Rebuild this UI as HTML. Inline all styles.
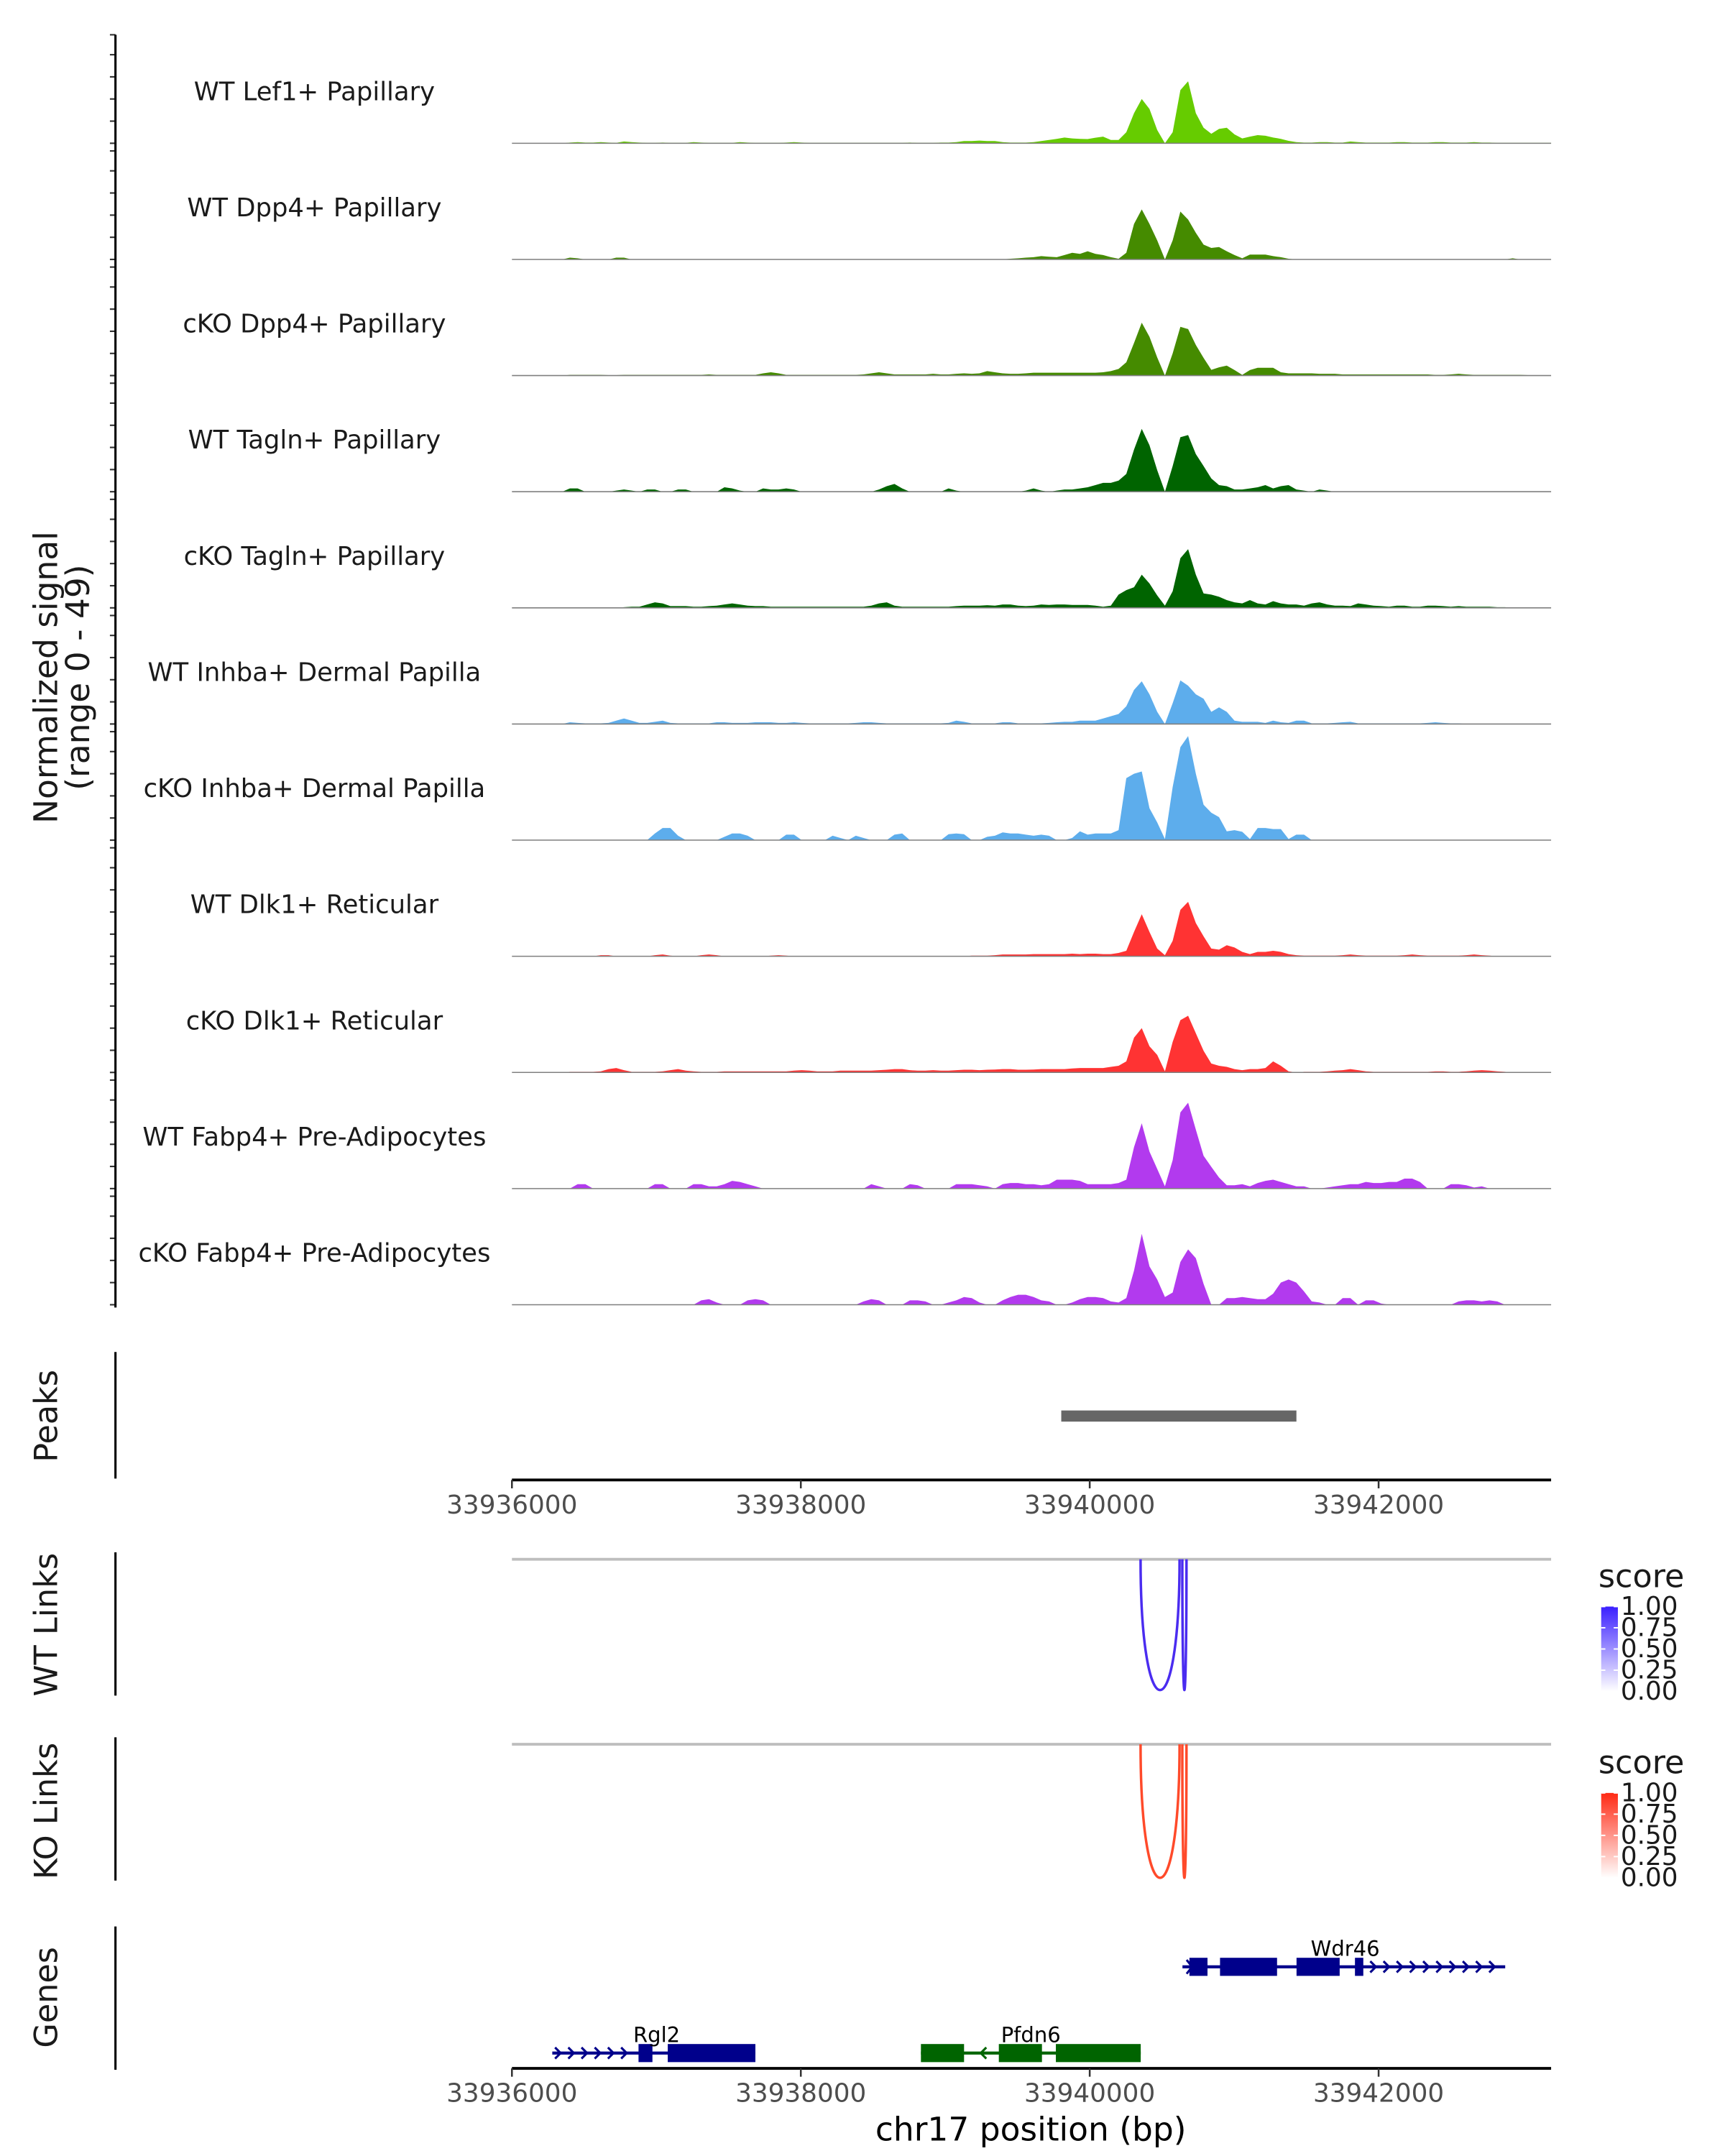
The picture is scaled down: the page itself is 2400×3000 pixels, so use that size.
<!DOCTYPE html>
<html><head><meta charset="utf-8">
<style>
html,body{margin:0;padding:0;background:#fff;}
svg{display:block;font-family:"DejaVu Sans","Liberation Sans",sans-serif;}
</style></head>
<body>
<svg id="fig" width="2400" height="3000" viewBox="0 0 1240 1550" xmlns="http://www.w3.org/2000/svg">
<rect x="0" y="0" width="1240" height="1550" fill="#fff"/>
<g id="tracks"></g>
<g id="axes"></g>
</svg>
<script>
// ---------- data ----------
const regionStart = 33936000;
const regionEnd = 33943190;
const binSize = 53.5;
const xTicks = [33936000, 33938000, 33940000, 33942000];
const yMax = 49;
const trackNames = ["WT Lef1+ Papillary","WT Dpp4+ Papillary","cKO Dpp4+ Papillary","WT Tagln+ Papillary","cKO Tagln+ Papillary","WT Inhba+ Dermal Papilla","cKO Inhba+ Dermal Papilla","WT Dlk1+ Reticular","cKO Dlk1+ Reticular","WT Fabp4+ Pre-Adipocytes","cKO Fabp4+ Pre-Adipocytes"];
const trackColors = ["#66CC00","#458B00","#458B00","#006400","#006400","#5DADEC","#5DADEC","#FF3333","#FF3333","#B23AEE","#B23AEE"];
const sigLef1WT = [0,0,0,0,0,0,0,0.3,0.5,0.3, 0.3,0.5,0.3,0.2,0.8,0.5,0.3,0.2,0.2,0.3, 0.2,0.2,0.2,0.5,0.3,0.2,0.2,0.2,0.2,0.5, 0.3,0.2,0.2,0.2,0.2,0.3,0.5,0.3,0.2,0.2, 0.2,0.2,0.2,0.2,0.2,0.2,0.2,0.2,0.2,0.2, 0.2,0.3,0.2,0.2,0.2,0.3,0.3,0.5,1,1, 1.2,1,1,0.5,0.3,0.3,0.3,0.5,1,1.5, 2,2.6,2.2,2,1.9,2.5,3,1.5,1.5,5, 13.6,20,15.5,6,0,5,24,28,13.6,7, 4.3,6.5,7,4,2.2,3,3.7,3.4,2.6,2, 1.1,0.5,0.3,0.3,0.5,0.5,0.3,0.3,0.8,0.5, 0.3,0.3,0.3,0.3,0.5,0.5,0.3,0.3,0.3,0.5, 0.5,0.3,0.3,0.3,0.5,0.3,0.3,0.2,0.2,0.2, 0.2,0.2,0.2,0.2,0.2,0,0];
const sigDpp4WT = [0,0,0,0,0,0,0,0.8,0.5,0, 0,0,0,0.8,0.8,0,0,0,0,0, 0,0,0,0,0,0,0,0,0,0, 0,0,0,0,0,0,0,0,0,0, 0,0,0,0,0,0,0,0,0,0, 0,0,0,0,0,0,0,0,0,0, 0,0,0,0,0.3,0.5,0.8,1,1.5,1.2, 1,2,3,2.5,3.7,2.5,2,1,0.3,3, 16,22.6,16,8.6,0,8.6,21.6,18,12,6.7, 5.2,5.6,3.7,2,0.5,2.2,2.2,2.2,1.5,1, 0.3,0,0,0,0,0,0,0,0,0, 0,0,0,0,0,0,0,0,0,0, 0,0,0,0,0,0,0,0,0,0.5, 0,0,0,0,0,0,0];
const sigDpp4KO = [0,0,0,0,0,0,0,0.3,0.3,0.3, 0.3,0.3,0.2,0.2,0.3,0.3,0.3,0.3,0.3,0.3, 0.3,0.3,0.3,0.3,0.3,0.5,0.3,0.3,0.3,0.3, 0.3,0.3,1,1.5,1,0.3,0.3,0.3,0.3,0.3, 0.3,0.3,0.3,0.3,0.3,0.5,1,1.5,1,0.5, 0.5,0.5,0.5,0.5,0.8,0.5,0.5,0.8,1,0.8, 1,2,1.5,1,0.8,0.8,1,1.3,1.3,1.3, 1.3,1.3,1.3,1.3,1.3,1.3,1.5,2,3,6, 14.7,23.9,17.5,8.2,0,10,22,21,13.8,8, 2.6,3.7,4.5,2.5,0.3,2.5,3.5,3.5,3.5,1.5, 1,1,1,1,0.8,0.8,0.8,0.5,0.5,0.5, 0.5,0.5,0.5,0.5,0.5,0.5,0.5,0.5,0.5,0.3, 0.3,0.5,0.8,0.5,0.3,0.3,0.3,0.3,0.3,0.3, 0.3,0.2,0.2,0,0,0,0];
const sigTaglnWT = [0,0,0,0,0,0,0,1.5,1.5,0, 0,0,0,0.5,1,0.5,0,1,1,0, 0,1,1,0,0,0,0,2,1.5,0.5, 0,0,1.5,1,1,1.5,1,0,0,0, 0,0,0,0,0,0,0,1,2.5,3.5, 1.5,0,0,0,0,0,1.5,0.5,0,0, 0,0,0,0,0,0,0.5,1.5,0.5,0, 0.5,1,1,1.5,2,3,4,4,5,8, 19,28.4,21,9.7,0,11.6,24.6,25.6,17,11.6, 6,3,2.5,1,1,1.5,2,3,1.5,2.5, 3,1,0.5,0,1,0.5,0,0,0,0, 0,0,0,0,0,0,0,0,0,0, 0,0,0,0,0,0,0,0,0,0, 0,0,0,0,0,0,0];
const sigTaglnKO = [0,0,0,0,0,0,0,0,0,0, 0,0,0,0,0.3,0.5,0.5,1.5,2.5,2, 0.8,0.8,0.8,0.5,0.5,0.8,1,1.5,2,1.5, 1,0.8,0.8,0.5,0.5,0.5,0.5,0.5,0.5,0.5, 0.5,0.5,0.5,0.5,0.5,0.5,1,2,2.5,1, 0.5,0.5,0.5,0.5,0.5,0.5,0.5,0.8,1,1, 1,1.2,1,1.5,1.5,1,0.8,1,1.5,1.3, 1.5,1.5,1.3,1.3,1.3,1,0.5,1,6,8, 9.3,15,11,5.6,1,7.5,22.4,26.5,15,6.5, 6,5,3.5,2.5,2,3.5,2,1.5,3,2, 1.5,1.5,1,2,2.5,1.5,1,1,0.8,2, 1.5,1,0.8,0.5,1,1,0.5,0.5,1,1, 0.8,0.5,0.8,0.5,0.5,0.5,0.5,0.3,0.3,0, 0,0,0,0,0,0,0];
const sigInhbaWT = [0,0,0,0,0,0,0,0.8,0.5,0.3, 0.3,0.3,0.5,1.5,2.5,1.5,0.5,0.5,1,1.5, 0.5,0.3,0.3,0.3,0.3,0.3,0.8,0.8,0.5,0.5, 0.5,0.8,0.8,0.8,0.5,0.5,0.8,0.5,0.3,0.3, 0.3,0.3,0.3,0.3,0.5,0.8,0.8,0.5,0.3,0.3, 0.3,0.3,0.3,0.3,0.3,0.3,0.5,1.5,1,0.3, 0.3,0.3,0.3,0.8,0.8,0.3,0.3,0.3,0.3,0.5, 0.8,1,1,1.5,1.5,1.5,2.5,3.5,4.5,8, 15.4,19.3,13.4,5.5,0,9.4,19.7,17.3,13.4,11.4, 5.5,7.5,5.5,1.5,1,1,1,0.5,1.5,0.8, 0.5,1.5,1.5,0.3,0.3,0.3,0.5,0.8,1,0.3, 0.3,0.3,0.3,0.3,0.3,0.3,0.3,0.3,0.5,0.8, 0.5,0.3,0.3,0,0,0,0,0,0,0, 0,0,0,0,0,0,0];
const sigInhbaKO = [0,0,0,0,0,0,0,0,0,0, 0,0,0,0,0,0,0,0,3,5.5, 5.5,2,0,0,0,0,0,1.5,3,3, 2,0,0,0,0,2.5,2.5,0,0,0, 0,2,1,0,2,1,0,0,0,2.5, 3,0,0,0,0,0,2.7,3,2.7,0, 0,1.5,2,3.5,3,3,2.5,2,2.5,2, 0,0,1,4,2.5,3,3,3,4.5,28, 30,31,14.4,8,0.5,24,42,47,30,16, 12.4,10.4,4,4.5,3.8,0.5,5.5,5.5,5,5, 0.5,2.5,2.5,0,0,0,0,0,0,0, 0,0,0,0,0,0,0,0,0,0, 0,0,0,0,0,0,0,0,0,0, 0,0,0,0,0,0,0];
const sigDlk1WT = [0,0,0,0,0,0,0,0,0,0, 0,0.5,0.5,0,0,0,0,0,0.5,0.8, 0.3,0,0,0,0.5,0.8,0.5,0,0,0, 0,0,0,0.3,0.5,0.3,0,0,0,0, 0,0,0,0,0,0,0,0,0,0, 0,0,0,0,0,0,0,0,0,0.3, 0.3,0.3,0.5,0.8,0.8,0.8,0.8,1,1,1, 1,1,1.2,1,1.2,1.2,1,1,1.5,2.5, 11,19,11,3.5,0.5,7,21,24.6,15,9, 3.5,3,5,4,2,1,2,2,2.5,2, 1,0.5,0.3,0.3,0.3,0.3,0.3,0.5,0.8,0.5, 0.3,0.3,0.3,0.3,0.3,0.5,0.8,0.5,0.3,0.3, 0.3,0.3,0.3,0.5,0.8,0.5,0.3,0,0,0, 0,0,0,0,0,0,0];
const sigDlk1KO = [0,0,0,0,0,0,0,0.3,0.3,0.3, 0.3,0.5,1.5,2,1,0.3,0.3,0.3,0.3,0.5, 1,1.5,0.8,0.5,0.3,0.3,0.3,0.5,0.5,0.5, 0.5,0.5,0.5,0.5,0.5,0.5,0.8,1,0.8,0.5, 0.5,0.5,0.8,0.8,0.8,0.8,0.8,1,1.2,1.5, 1.5,1,0.8,0.8,1,0.8,0.8,1,1.2,1.2, 1,1.2,1.3,1.5,1.5,1.2,1.2,1.3,1.5,1.5, 1.5,1.5,1.8,2,2,2,2,2.5,3,5, 15.7,20,11.8,7.9,0.5,13.8,23.6,25.6,17.7,9.8, 4,3,2.5,1.5,1,1.5,1.5,2,5,3, 0.5,0,0.3,0.3,0.3,0.5,0.8,1,1.5,1, 0.5,0.3,0.3,0.3,0.3,0.3,0.3,0.3,0.3,0.5, 0.5,0.3,0.3,0.5,0.8,1,0.8,0.5,0.3,0, 0,0,0,0,0,0,0];
const sigFabp4WT = [0,0,0,0,0,0,0,0,2,2, 0,0,0,0,0,0,0,0,2,2, 0,0,0,2,2,1,1,2,3.5,3, 2,1,0,0,0,0,0,0,0,0, 0,0,0,0,0,0,2,1,0,0, 0,2,1.5,0,0,0,0,2,2,2, 1.5,1,0,2,2.5,2.5,2,2,1.5,2, 4,4,4,3.5,2,2,2,2,2.5,4, 18.7,29.5,16.7,8.9,1,12.8,34.4,38.8,26.6,14.8, 9.8,5,1.5,1.5,2,1,2.5,3.5,4,3, 2,1,1,0,0,0.5,1,1.5,2,2, 3,2.5,2.5,3,3,4.5,4.5,3,0,0, 0,2,2,1.5,0.5,1,0,0,0,0, 0,0,0,0,0,0,0];
const sigFabp4KO = [0,0,0,0,0,0,0,0,0,0, 0,0,0,0,0,0,0,0,0,0, 0,0,0,0,2,2.5,1,0,0,0, 2,2.5,2,0,0,0,0,0,0,0, 0,0,0,0,0,1.5,2.5,2,0,0, 0,2,2,1.5,0,0,1,2,3.5,3, 1,0,0,2,3.5,4.5,4.5,3.5,2,1.5, 0,0,1,2.5,3.5,3.5,3,1.5,1,3, 15.4,32,17.3,11.4,3.5,5.5,19.3,25,21,9.4, 0,0,3,3,3.5,3,2.5,2.5,5,10, 11.4,10,6,1.5,1,0,0,3,3,0, 2,2,0.5,0,0,0,0,0,0,0, 0,0,1.5,2,2,1.5,2,1.5,0,0, 0,0,0,0,0,0,0];
const signals = [sigLef1WT,sigDpp4WT,sigDpp4KO,sigTaglnWT,sigTaglnKO,sigInhbaWT,sigInhbaKO,sigDlk1WT,sigDlk1KO,sigFabp4WT,sigFabp4KO];
const peakStart = 33939803, peakEnd = 33941431;
const linkStartsWT = [33940352, 33940641];
const linkEndsWT = [33940622, 33940670];
const linkStartsKO = [33940352, 33940641];
const linkEndsKO = [33940622, 33940670];
const legendLabels = ["1.00","0.75","0.50","0.25","0.00"];

// ---------- layout ----------
const NS = "http://www.w3.org/2000/svg";
const X0 = 368, X1 = 1115;
const pxPerBp = (991 - 368) / 6000;
function xs(g){ return X0 + (g - regionStart) * pxPerBp; }
const trackTop0 = 25, trackStep = 83.5, trackH = 78;
function el(tag, attrs, parent, text){
  const e = document.createElementNS(NS, tag);
  for (const k in attrs) e.setAttribute(k, attrs[k]);
  if (text !== undefined) e.textContent = text;
  parent.appendChild(e);
  return e;
}
const T = document.getElementById('tracks');
const A = document.getElementById('axes');

signals.forEach((vals, i) => {
  const base = trackTop0 + trackH + trackStep * i;
  const ys = v => base - v / yMax * trackH;
  let d = `M${X0},${base}`;
  let last = 0;
  vals.forEach((v, b) => {
    const x = xs(regionStart + (b + 0.5) * binSize);
    if (x > X1) return;
    last = v;
    d += ` L${x.toFixed(2)},${ys(v).toFixed(2)}`;
  });
  d += ` L${X1},${ys(last).toFixed(2)} L${X1},${base} Z`;
  const p = el('path', {d: d, fill: trackColors[i]}, T);
  
  
  const bl = el('line', {x1:X0, x2:X1, y1:base, y2:base, stroke:'#7f7f7f', 'stroke-width':0.8}, T);
  
  
  const lb = el('text', {x:226, y:base-31, 'font-size':18.3, fill:'#1a1a1a', 'text-anchor':'middle'}, T, trackNames[i]);
  
  
  for (let k = 0; k <= 5; k++) {
    const ty = base - k * 10 / yMax * trackH;
    if (ty < base - trackH - 0.5) continue;
    const tk = el('line', {x1:79, x2:83, y1:ty, y2:ty, stroke:'#333', 'stroke-width':1.1}, A);
    
    
  }
  const tt = el('line', {x1:79, x2:83, y1:base-trackH, y2:base-trackH, stroke:'#333', 'stroke-width':1.1}, A);
  
  
});
const yax = el('line', {x1:83, x2:83, y1:25, y2:940, stroke:'#000', 'stroke-width':1.6}, A);


const yt = el('text', {transform:'translate(41,487) rotate(-90)', 'font-size':23.5, 'text-anchor':'middle', fill:'#1a1a1a'}, A);


el('tspan', {x:0, dy:0}, yt, 'Normalized signal');
el('tspan', {x:0, dy:23}, yt, '(range 0 - 49)');

function panelTitle(txt, cy, y1, y2, name){
  const t = el('text', {transform:`translate(41,${cy}) rotate(-90)`, 'font-size':23, 'text-anchor':'middle', fill:'#1a1a1a'}, A, txt);
  
  
  const l = el('line', {x1:83, x2:83, y1:y1, y2:y2, stroke:'#000', 'stroke-width':1.6}, A);
  
  
}
panelTitle('Peaks', 1018, 972, 1063, 'peaks-title');
const pk = el('line', {x1:xs(peakStart), x2:xs(peakEnd), y1:1018, y2:1018, stroke:'#666', 'stroke-width':8}, A);



function xAxis(y, name){
  const l = el('line', {x1:X0, x2:X1, y1:y, y2:y, stroke:'#000', 'stroke-width':2}, A);
  
  
  xTicks.forEach(g => {
    const tk = el('line', {x1:xs(g), x2:xs(g), y1:y, y2:y+6, stroke:'#333', 'stroke-width':1.3}, A);
    
    
    const tl = el('text', {x:xs(g), y:y+24, 'font-size':18.5, fill:'#4d4d4d', 'text-anchor':'middle'}, A, String(g));
    
    
  });
}
xAxis(1064, 'peaks-x-axis');

function links(top, bottom, starts, ends, color, gradId, c1, legendTop, titleTxt, cy, name){
  panelTitle(titleTxt, cy, top-5, top+98, name + '-title');
  const gl = el('line', {x1:X0, x2:X1, y1:top, y2:top, stroke:'#bebebe', 'stroke-width':2}, A);
  
  
  const c = top + (bottom - top) / 0.75;
  starts.forEach((s, i) => {
    const xa = xs(s), xb = xs(ends[i]);
    const p = el('path', {d:`M${xa},${top} C${xa},${c} ${xb},${c} ${xb},${top}`, fill:'none', stroke:color, 'stroke-width':1.8}, A);
    
    
  });
  const defs = el('defs', {}, A);
  const lg = el('linearGradient', {id:gradId, x1:0, y1:0, x2:0, y2:1}, defs);
  el('stop', {offset:0, 'stop-color':c1}, lg);
  el('stop', {offset:1, 'stop-color':'#ffffff'}, lg);
  const st = el('text', {x:1149, y:legendTop-14, 'font-size':23, fill:'#1a1a1a'}, A, 'score');
  
  
  const bar = el('rect', {x:1151, y:legendTop, width:12, height:61, fill:`url(#${gradId})`}, A);
  
  
  legendLabels.forEach((t, i) => {
    const ly = legendTop + i * 15.25;
    const lt = el('text', {x:1165, y:ly+6, 'font-size':18.5, fill:'#1a1a1a'}, A, t);
    
    
    el('line', {x1:1151, x2:1154, y1:ly, y2:ly, stroke:'#fff', 'stroke-width':1}, A);
    el('line', {x1:1160, x2:1163, y1:ly, y2:ly, stroke:'#fff', 'stroke-width':1}, A);
  });
}
links(1121, 1215, linkStartsWT, linkEndsWT, '#4A2CF0', 'gradWT', '#3a1fff', 1155, 'WT Links', 1168, 'wt-links');
links(1254, 1350, linkStartsKO, linkEndsKO, '#FF4A2A', 'gradKO', '#ff2a14', 1289, 'KO Links', 1302, 'ko-links');

panelTitle('Genes', 1436, 1385, 1488, 'genes-title');
const G = el('g', {}, A);


function gene(name, y, x1, x2, exons, color, strand, chevFrom, chevTo, labelX){
  const ln = el('line', {x1:x1, x2:x2, y1:y, y2:y, stroke:color, 'stroke-width':2.2}, G);
  
  
  exons.forEach(e => {
    const r = el('rect', {x:e[0], y:y-6.5, width:e[1]-e[0], height:13, fill:color}, G);
    
    
  });
  for (let x = chevFrom; x <= chevTo; x += 9.5) {
    const d = strand > 0 ? `M${x-3},${y-4} L${x+1},${y} L${x-3},${y+4}` : `M${x+3},${y-4} L${x-1},${y} L${x+3},${y+4}`;
    el('path', {d:d, fill:'none', stroke:color, 'stroke-width':1.6}, G);
  }
  const t = el('text', {x:labelX, y:y-8, 'font-size':15, fill:'#000', 'text-anchor':'middle'}, G, name);
  
  
}
gene('Wdr46', 1414, 850, 1082, [[855,868],[877,918],[932,963],[974,980]], '#00008B', 1, 988, 1080, 967);
gene('Rgl2', 1476, 397, 543, [[459,469],[480,543]], '#00008B', 1, 402, 455, 472);
gene('Pfdn6', 1476, 662, 820, [[662,693],[718,749],[759,820]], '#006400', -1, 706, 712, 741);
el('path', {d:'M853,1409 L857,1414 L853,1419', fill:'none', stroke:'#00008B', 'stroke-width':1.6}, G);
xAxis(1487, 'genes-x-axis');
const xt = el('text', {x:741, y:1539, 'font-size':23.5, 'text-anchor':'middle', fill:'#000'}, A, 'chr17 position (bp)');


</script>
</body></html>
